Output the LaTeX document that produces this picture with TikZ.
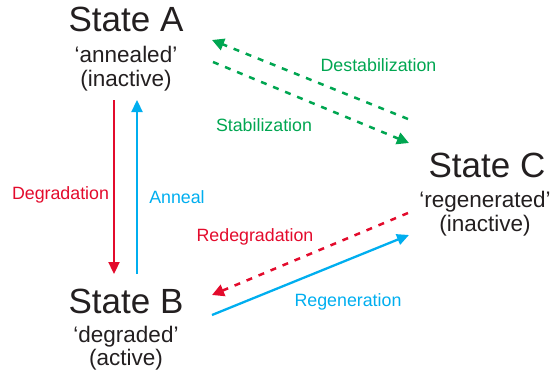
\documentclass[tikz,border=0pt]{standalone}
\usepackage{fontspec}
\setmainfont{Liberation Sans}
\usetikzlibrary{arrows.meta}
\definecolor{cred}{HTML}{E30B2C}
\definecolor{cblue}{HTML}{00AEEF}
\definecolor{cgreen}{HTML}{00A651}
\definecolor{ctext}{HTML}{231F20}
\begin{document}
\begin{tikzpicture}[x=1pt,y=-1pt,
 title/.style={anchor=base, inner sep=0pt, font=\fontsize{35}{40}\selectfont, text=ctext},
 sub/.style={anchor=base, inner sep=0pt, font=\fontsize{22.5}{26}\selectfont, text=ctext},
 lab/.style={anchor=base, inner sep=0pt, font=\fontsize{17.8}{20}\selectfont},
 solidarrow/.style={line width=2.3pt, -{Triangle[length=12pt,width=11pt]}},
 dasharrow/.style={line width=2.5pt, dash pattern=on 6pt off 7pt, -{Triangle[length=12pt,width=12pt]}},
]
\useasboundingbox (0,0) rectangle (554,381);
% State A
\node[title] (A) at (126,31) {State A};
\node[sub] (A1) at (126,62) {‘annealed’};
\node[sub] (A2) at (126,86) {(inactive)};
% State B
\node[title] (B) at (126,313) {State B};
\node[sub] (B1) at (126,342) {‘degraded’};
\node[sub] (B2) at (126,365) {(active)};
% State C
\node[title] (C) at (487,177) {State C};
\node[sub] (C1) at (485,207) {‘regenerated’};
\node[sub] (C2) at (485,231) {(inactive)};
% connector end points
\coordinate (AdegS) at (114,100);
\coordinate (BdegE) at (114,274);
\coordinate (BannS) at (137,274);
\coordinate (AannE) at (137,100);
\coordinate (CdesS) at (408,119);
\coordinate (AdesE) at (212,40);
\coordinate (AstaS) at (213,62);
\coordinate (CstaE) at (409,143);
\coordinate (CredS) at (408,213);
\coordinate (BredE) at (212,295);
\coordinate (BregS) at (212,315);
\coordinate (CregE) at (409,235);
% arrows
\draw[solidarrow, cred] (AdegS) -- (BdegE);
\draw[solidarrow, cblue] (BannS) -- (AannE);
\draw[dasharrow, cgreen] (CdesS) -- (AdesE);
\draw[dasharrow, cgreen] (AstaS) -- (CstaE);
\draw[dasharrow, cred] (CredS) -- (BredE);
\draw[solidarrow, cblue] (BregS) -- (CregE);
% labels
\node[lab, text=cred] (ldeg) at (60.5,199) {Degradation};
\node[lab, text=cblue] (lann) at (177,203) {Anneal};
\node[lab, text=cgreen] (ldes) at (378.5,71) {Destabilization};
\node[lab, text=cgreen] (lsta) at (264,131) {Stabilization};
\node[lab, text=cred] (lred) at (255,241) {Redegradation};
\node[lab, text=cblue] (lreg) at (348,306) {Regeneration};
\end{tikzpicture}
\end{document}
